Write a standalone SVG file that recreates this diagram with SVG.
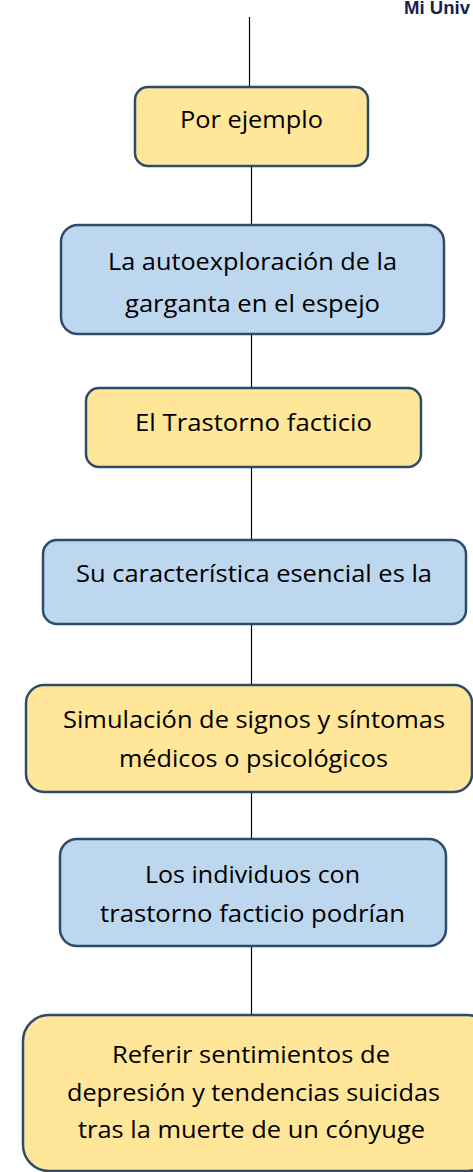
<svg xmlns="http://www.w3.org/2000/svg" width="473" height="1172" viewBox="0 0 473 1172">
<style>
.y{fill:#FFE699;stroke:#2E4B6C;stroke-width:2.5}
.b{fill:#BDD7EE;stroke:#2E4B6C;stroke-width:2.5}
.t{font-family:"Open Sans","Noto Sans","Liberation Sans",sans-serif;font-size:24px;fill:#000;text-anchor:middle}
.c{stroke:#000;stroke-width:1.2;fill:none}
</style>
<rect width="473" height="1172" fill="#fff"/>
<text x="404" y="14" font-family="'Liberation Sans',Arial,sans-serif" font-weight="bold" font-size="18" fill="#1B1F4F" textLength="66" lengthAdjust="spacingAndGlyphs">Mi Univ</text>
<g id="connectors">
<line class="c" x1="249.5" y1="17" x2="249.5" y2="87"/>
<line class="c" x1="251.5" y1="165" x2="251.5" y2="225"/>
<line class="c" x1="251.5" y1="334" x2="251.5" y2="388"/>
<line class="c" x1="251.5" y1="467" x2="251.5" y2="540"/>
<line class="c" x1="251.5" y1="624" x2="251.5" y2="685"/>
<line class="c" x1="251.5" y1="792" x2="251.5" y2="839"/>
<line class="c" x1="251.5" y1="946" x2="251.5" y2="1015"/>
</g>
<g id="n1">
<rect class="y" x="135" y="87" width="233" height="79" rx="13"/>
<text class="t" x="251.5" y="128" textLength="143" lengthAdjust="spacingAndGlyphs">Por ejemplo</text>
</g>
<g id="n2">
<rect class="b" x="61" y="225" width="383" height="109" rx="17"/>
<text class="t" x="252.5" y="270" textLength="289" lengthAdjust="spacingAndGlyphs">La autoexploración de la</text>
<text class="t" x="252.5" y="312" textLength="255" lengthAdjust="spacingAndGlyphs">garganta en el espejo</text>
</g>
<g id="n3">
<rect class="y" x="86" y="388" width="335" height="79" rx="13"/>
<text class="t" x="253.5" y="431" textLength="237" lengthAdjust="spacingAndGlyphs">El Trastorno facticio</text>
</g>
<g id="n4">
<rect class="b" x="43" y="540" width="423" height="84" rx="14"/>
<text class="t" x="254" y="582" textLength="356" lengthAdjust="spacingAndGlyphs">Su característica esencial es la</text>
</g>
<g id="n5">
<rect class="y" x="26" y="685" width="446" height="107" rx="18"/>
<text class="t" x="254" y="728" textLength="382" lengthAdjust="spacingAndGlyphs">Simulación de signos y síntomas</text>
<text class="t" x="253.5" y="767" textLength="269" lengthAdjust="spacingAndGlyphs">médicos o psicológicos</text>
</g>
<g id="n6">
<rect class="b" x="60" y="839" width="386" height="107" rx="17"/>
<text class="t" x="252.5" y="883" textLength="215" lengthAdjust="spacingAndGlyphs">Los individuos con</text>
<text class="t" x="252.5" y="922" textLength="305" lengthAdjust="spacingAndGlyphs">trastorno facticio podrían</text>
</g>
<g id="n7">
<rect class="y" x="23" y="1015" width="470" height="156" rx="26"/>
<text class="t" x="251" y="1063" textLength="278" lengthAdjust="spacingAndGlyphs">Referir sentimientos de</text>
<text class="t" x="253.5" y="1101" textLength="373" lengthAdjust="spacingAndGlyphs">depresión y tendencias suicidas</text>
<text class="t" x="251.5" y="1138" textLength="347" lengthAdjust="spacingAndGlyphs">tras la muerte de un cónyuge</text>
</g>
</svg>
